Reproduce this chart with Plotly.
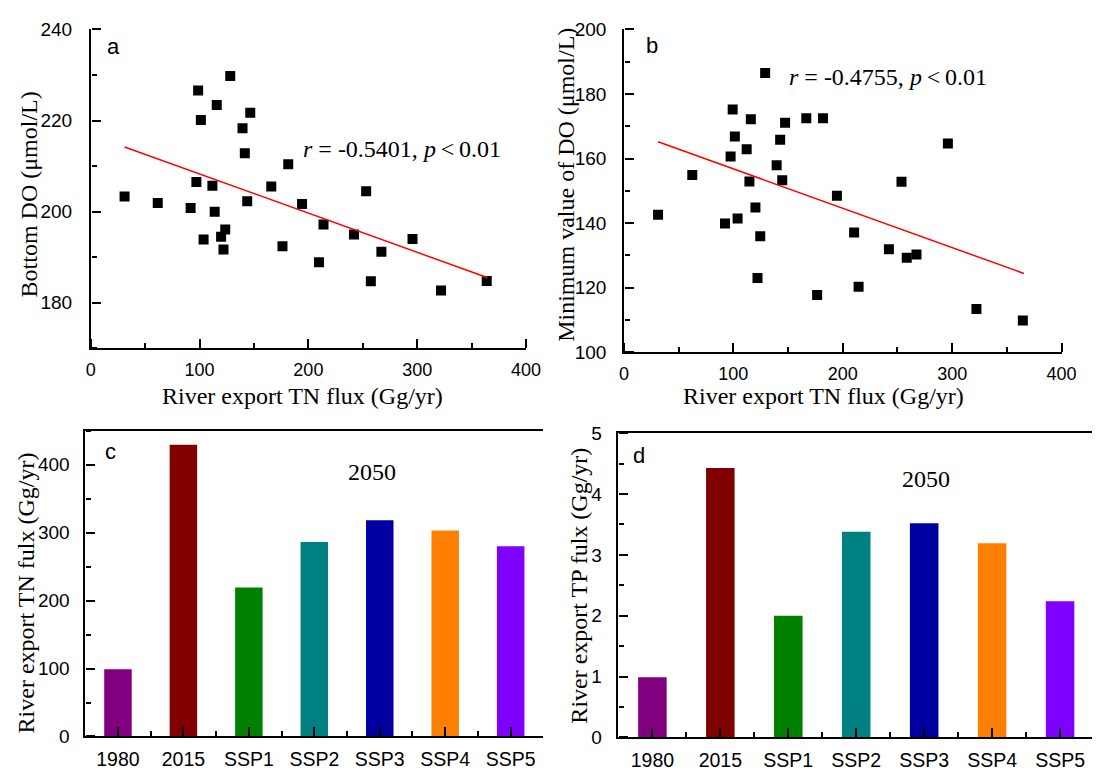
import plotly.graph_objects as go

W, H = 1107, 776

# ---------------- data ----------------
tn_flux_a = [31.1, 61.6, 91.8, 97.1, 98.7, 101.2, 103.7, 111.8, 113.9, 115.8, 119.8, 123.6, 122.0,
             128.2, 139.5, 141.6, 143.8, 146.6, 165.9, 176.2, 181.5, 194.2, 209.8, 213.9, 241.9,
             253.1, 257.4, 267.1, 295.7, 321.9, 363.9]
bottom_do = [203.3, 201.9, 200.8, 206.5, 226.6, 220.1, 193.9, 205.7, 200.0, 223.4, 194.5, 196.1, 191.7,
             229.8, 218.3, 212.8, 202.3, 221.7, 205.5, 192.4, 210.4, 201.7, 188.9, 197.2, 195.0,
             204.5, 184.7, 191.2, 194.0, 182.7, 184.8]
fit_a_x = [31.1, 364.8]
fit_a_y = [214.2, 185.5]

tn_flux_b = [31.2, 62.5, 92.4, 97.5, 99.4, 101.4, 103.9, 112.2, 114.7, 116.0, 120.2, 124.6, 122.1,
             129.1, 139.6, 142.8, 144.7, 147.3, 166.7, 176.6, 182.0, 194.7, 210.4, 214.5, 242.2,
             253.7, 258.5, 267.4, 296.1, 322.2, 364.6]
min_do = [142.6, 154.9, 139.9, 160.6, 175.2, 166.8, 141.4, 162.9, 152.9, 172.2, 144.8, 135.9, 123.0,
          186.5, 157.9, 165.8, 153.3, 171.1, 172.5, 117.7, 172.5, 148.5, 137.1, 120.3, 131.9,
          152.8, 129.3, 130.3, 164.7, 113.4, 109.8]
fit_b_x = [31.2, 365.6]
fit_b_y = [165.2, 124.4]

categories = ["1980", "2015", "SSP1", "SSP2", "SSP3", "SSP4", "SSP5"]
tn_export = [99, 429, 219, 286, 318, 303, 280]
tp_export = [0.99, 4.43, 2.0, 3.38, 3.52, 3.19, 2.24]
bar_colors = ["#800080", "#800000", "#008000", "#008080", "#0000A0", "#FF8000", "#8000FF"]

# ---------------- helpers ----------------
def px(x):
    return x / W

def py(y):
    return 1 - y / H

SANS = "Liberation Sans, Arial, sans-serif"
SERIF = "Liberation Serif, Times New Roman, serif"

fig = go.Figure()

fig.add_trace(go.Scatter(x=tn_flux_a, y=bottom_do, mode="markers",
                         marker=dict(symbol="square", size=10, color="black"),
                         xaxis="x", yaxis="y", showlegend=False))
fig.add_trace(go.Scatter(x=fit_a_x, y=fit_a_y, mode="lines", line=dict(color="red", width=1.5),
                         xaxis="x", yaxis="y", showlegend=False))
fig.add_trace(go.Scatter(x=tn_flux_b, y=min_do, mode="markers",
                         marker=dict(symbol="square", size=10, color="black"),
                         xaxis="x2", yaxis="y2", showlegend=False))
fig.add_trace(go.Scatter(x=fit_b_x, y=fit_b_y, mode="lines", line=dict(color="red", width=1.5),
                         xaxis="x2", yaxis="y2", showlegend=False))
xpos = list(range(len(categories)))
fig.add_trace(go.Bar(x=xpos, y=tn_export, width=0.42, marker=dict(color=bar_colors, line=dict(width=0)),
                     xaxis="x3", yaxis="y3", showlegend=False))
fig.add_trace(go.Bar(x=xpos, y=tp_export, width=0.42, marker=dict(color=bar_colors, line=dict(width=0)),
                     xaxis="x4", yaxis="y4", showlegend=False))

half_vals = [0.5, 1.5, 2.5, 3.5, 4.5, 5.5]

panels = [
    dict(xd=(87.3, 530.6), yd=(347.7, 20), xr=[0, 400], yr=[170, 240],
         xmaj=dict(tickmode="linear", tick0=0, dtick=100), xmin=dict(dtick=50),
         ymaj=dict(tickmode="linear", tick0=0, dtick=20), ymin=dict(dtick=10),
         xf=18, ys=13, mirror=False),
    dict(xd=(630.3, 1076), yd=(351.7, 20), xr=[0, 400], yr=[100, 200],
         xmaj=dict(tickmode="linear", tick0=0, dtick=100), xmin=dict(dtick=50),
         ymaj=dict(tickmode="linear", tick0=0, dtick=20), ymin=dict(dtick=10),
         xf=18, ys=12, mirror=False),
    dict(xd=(81.7, 548.3), yd=(746.7, 432.3), xr=[-0.5, 6.5], yr=[0, 450],
         xmaj=dict(tickmode="array", tickvals=xpos, ticktext=categories),
         xmin=dict(tickmode="array", tickvals=half_vals),
         ymaj=dict(tickmode="linear", tick0=0, dtick=100), ymin=dict(dtick=50),
         xf=19.5, ys=10, mirror=True),
    dict(xd=(624.7, W), yd=(747.7, 435), xr=[-0.5, 6.47], yr=[0, 5],
         xmaj=dict(tickmode="array", tickvals=xpos, ticktext=categories),
         xmin=dict(tickmode="array", tickvals=half_vals),
         ymaj=dict(tickmode="linear", tick0=0, dtick=1), ymin=dict(dtick=0.5),
         xf=19.5, ys=11, mirror=True),
]

layout = dict(width=W, height=H, margin=dict(l=0, r=0, t=0, b=0),
              paper_bgcolor="white", plot_bgcolor="white", showlegend=False)

for i, p in enumerate(panels, start=1):
    xdom = [px(p["xd"][0]), min(1.0, px(p["xd"][1]))]
    ydom = [py(p["yd"][0]), py(p["yd"][1])]
    xa = dict(domain=xdom, anchor=f"y{i}" if i > 1 else "y", range=p["xr"], showgrid=False,
              zeroline=False, showline=True, linecolor="black", linewidth=1.5, ticks="",
              mirror=p["mirror"], tickfont=dict(family=SANS, size=p["xf"], color="black"),
              ticklabelstandoff=4)
    xa.update(p["xmaj"])
    ya = dict(domain=ydom, anchor=f"x{i}" if i > 1 else "x", range=p["yr"], showgrid=False,
              zeroline=False, showline=True, linecolor="black", linewidth=1.5, ticks="",
              tickfont=dict(family=SANS, size=19, color="black"), ticklabelstandoff=p["ys"])
    ya.update(p["ymaj"])
    layout["xaxis" if i == 1 else f"xaxis{i}"] = xa
    layout["yaxis" if i == 1 else f"yaxis{i}"] = ya

    # tick-only axes on the far side so that "outside" ticks point into the plot (incl. range ends)
    j = i + 4
    xt = dict(overlaying="x" if i == 1 else f"x{i}", anchor="free", position=ydom[0], side="top",
              range=p["xr"], showgrid=False, zeroline=False, showline=False, showticklabels=False,
              ticks="outside", ticklen=9, tickwidth=1.5, tickcolor="black",
              minor=dict(ticks="outside", ticklen=5, tickwidth=1.5, tickcolor="black", showgrid=False,
                         **p["xmin"]))
    xt.update({k: v for k, v in p["xmaj"].items() if k != "ticktext"})
    yt = dict(overlaying="y" if i == 1 else f"y{i}", anchor="free", position=xdom[0], side="right",
              range=p["yr"], showgrid=False, zeroline=False, showline=False, showticklabels=False,
              ticks="outside", ticklen=9, tickwidth=1.5, tickcolor="black",
              minor=dict(ticks="outside", ticklen=5, tickwidth=1.5, tickcolor="black", showgrid=False,
                         **p["ymin"]))
    yt.update(p["ymaj"])
    layout[f"xaxis{j}"] = xt
    layout[f"yaxis{j}"] = yt
    fig.add_trace(go.Scatter(x=[None], y=[None], xaxis=f"x{j}", yaxis=f"y{j}", mode="markers",
                             showlegend=False, hoverinfo="skip"))

fig.update_layout(**layout)

def ann(x, y, text, size, family, angle=0):
    fig.add_annotation(xref="paper", yref="paper", x=px(x), y=py(y), text=text, showarrow=False,
                       xanchor="center", yanchor="middle", textangle=angle,
                       font=dict(family=family, size=size, color="black"))

ann(111, 38, "a", 22, SANS)
ann(659, 36, "b", 22, SANS)
ann(107.5, 454, "c", 22, SANS)
ann(646, 457.5, "d", 22, SANS)

ann(404.6, 143.3, "<i>r</i> = -0.5401, <i>p</i>\u2009&lt;\u20090.01", 24, SERIF)
ann(899, 69.2, "<i>r</i> = -0.4755, <i>p</i>\u2009&lt;\u20090.01", 24, SERIF)

ann(373.6, 475, "2050", 24, SERIF)
ann(938, 481.7, "2050", 24, SERIF)

ann(303, 397, "River export TN flux (Gg/yr)", 24, SERIF)
ann(834, 397, "River export TN flux (Gg/yr)", 24, SERIF)
ann(24, 190, "Bottom DO (μmol/L)", 24, SERIF, -90)
ann(571, 180, "Minimum value of DO (μmol/L)", 24, SERIF, -90)
ann(21, 599, "River export TN fulx (Gg/yr)", 24, SERIF, -90)
ann(584.5, 591.7, "River export TP fulx (Gg/yr)", 24, SERIF, -90)

fig.write_html("out.html")
